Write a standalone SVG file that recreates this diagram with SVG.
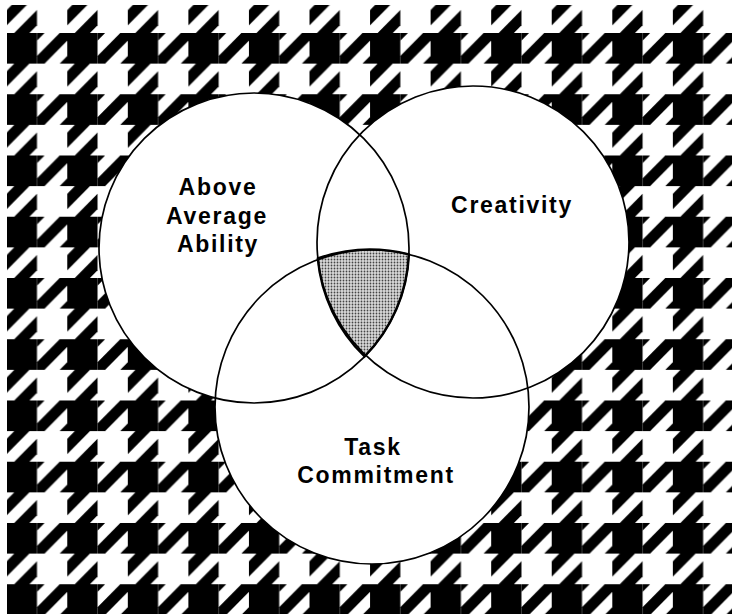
<svg xmlns="http://www.w3.org/2000/svg" width="732" height="614" viewBox="0 0 732 614">
  <defs>
    <pattern id="hound" patternUnits="userSpaceOnUse" width="8" height="8" patternTransform="translate(6.7 33) scale(7.57 7.656)">
      <rect x="0" y="0" width="8" height="8" fill="#fff"/>
      <g fill="#000">
        <rect x="0" y="0" width="4" height="4"/>
        <polygon points="4,0 5,0 4,1"/>
        <polygon points="4,3 7,0 8,0 8,1 5,4 4,4"/>
        <polygon points="7,4 8,3 8,4"/>
        <polygon points="0,5 1,4 3,4 0,7"/>
        <polygon points="1,8 4,5 4,7 3,8"/>
      </g>
    </pattern>
    <pattern id="dots" patternUnits="userSpaceOnUse" width="3" height="3">
      <rect width="3" height="3" fill="#dadada"/>
      <circle cx="1.5" cy="1.5" r="0.9" fill="#444"/>
    </pattern>
  </defs>
  <style>
    .ring { fill: none; stroke: #000; stroke-width: 1.7; }
    .fill { fill: #fff; stroke: none; }
    .lbl { font-family: "Liberation Sans", Arial, sans-serif; font-weight: bold; font-size: 23px; letter-spacing: 1.7px; text-anchor: middle; fill: #000; }
  </style>
  <rect x="0" y="0" width="732" height="614" fill="#fff"/>
  <rect id="background" x="7" y="5" width="725" height="609" fill="url(#hound)"/>
  <g id="fills">
    <circle class="fill" cx="254" cy="248" r="155"/>
    <circle class="fill" cx="473" cy="242" r="156"/>
    <circle class="fill" cx="372" cy="407" r="157"/>
  </g>
  <path id="overlap" d="M317.8 258.5 A157 157 0 0 1 408.9 254.4 A155 155 0 0 1 364.6 356.5 A156 156 0 0 1 317.8 258.5 Z" fill="url(#dots)" stroke="#000" stroke-width="2.4"/>
  <g id="node-ability">
    <circle class="ring" cx="254" cy="248" r="155"/>
    <text class="lbl" x="218" y="195">Above</text>
    <text class="lbl" x="217" y="224">Average</text>
    <text class="lbl" x="218" y="252">Ability</text>
  </g>
  <g id="node-creativity">
    <circle class="ring" cx="473" cy="242" r="156"/>
    <text class="lbl" x="512" y="213">Creativity</text>
  </g>
  <g id="node-task">
    <circle class="ring" cx="372" cy="407" r="157"/>
    <text class="lbl" x="373" y="455">Task</text>
    <text class="lbl" x="376" y="483">Commitment</text>
  </g>
</svg>
